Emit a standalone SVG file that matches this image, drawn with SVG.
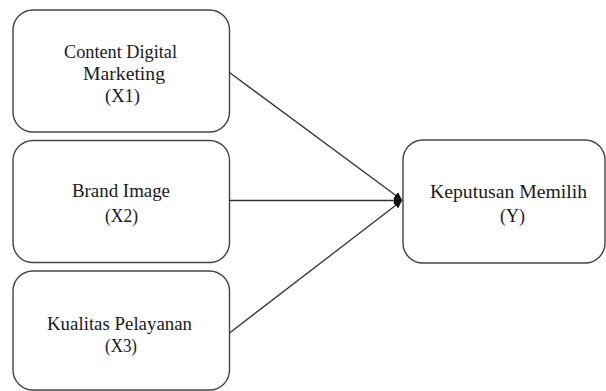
<svg xmlns="http://www.w3.org/2000/svg" width="606" height="391" viewBox="0 0 606 391">
<style>
.box{fill:#fff;stroke:#444;stroke-width:1.4}
.t{font-family:"Liberation Serif","DejaVu Serif","Times New Roman",serif;font-size:18.5px;fill:#1a1a1a;text-anchor:middle}
.c{stroke:#333;stroke-width:1.3;fill:none}
</style>
<defs>
<marker id="ah" viewBox="0 0 10 10" refX="10" refY="5" markerWidth="8" markerHeight="8" markerUnits="userSpaceOnUse" orient="auto">
<path d="M0,0 L10,5 L0,10 Z" fill="#111"/>
</marker>
</defs>
<rect width="606" height="391" fill="#fff"/>
<g id="x1">
<rect class="box" x="13" y="10" width="216.5" height="122" rx="20"/>
<text class="t" x="120.5" y="58" textLength="113" lengthAdjust="spacingAndGlyphs">Content Digital</text>
<text class="t" x="124" y="80" textLength="82" lengthAdjust="spacingAndGlyphs">Marketing</text>
<text class="t" x="122.5" y="102" textLength="35" lengthAdjust="spacingAndGlyphs">(X1)</text>
</g>
<g id="x2">
<rect class="box" x="13" y="140.5" width="216.5" height="122" rx="20"/>
<text class="t" x="121" y="197" textLength="98" lengthAdjust="spacingAndGlyphs">Brand Image</text>
<text class="t" x="121.5" y="222" textLength="33" lengthAdjust="spacingAndGlyphs">(X2)</text>
</g>
<g id="x3">
<rect class="box" x="13" y="271" width="216.5" height="119" rx="20"/>
<text class="t" x="119.5" y="330" textLength="145" lengthAdjust="spacingAndGlyphs">Kualitas Pelayanan</text>
<text class="t" x="121" y="352" textLength="32" lengthAdjust="spacingAndGlyphs">(X3)</text>
</g>
<g id="y">
<rect class="box" x="403" y="140" width="202" height="123" rx="20"/>
<text class="t" x="508.5" y="198" textLength="157" lengthAdjust="spacingAndGlyphs">Keputusan Memilih</text>
<text class="t" x="512.5" y="222" textLength="25" lengthAdjust="spacingAndGlyphs">(Y)</text>
</g>
<g id="connectors">
<line class="c" x1="229.5" y1="72.5" x2="402" y2="200" marker-end="url(#ah)"/>
<line class="c" x1="229.5" y1="200.5" x2="402" y2="200.5" marker-end="url(#ah)"/>
<line class="c" x1="229.5" y1="333" x2="402" y2="200.5" marker-end="url(#ah)"/>
</g>
</svg>
